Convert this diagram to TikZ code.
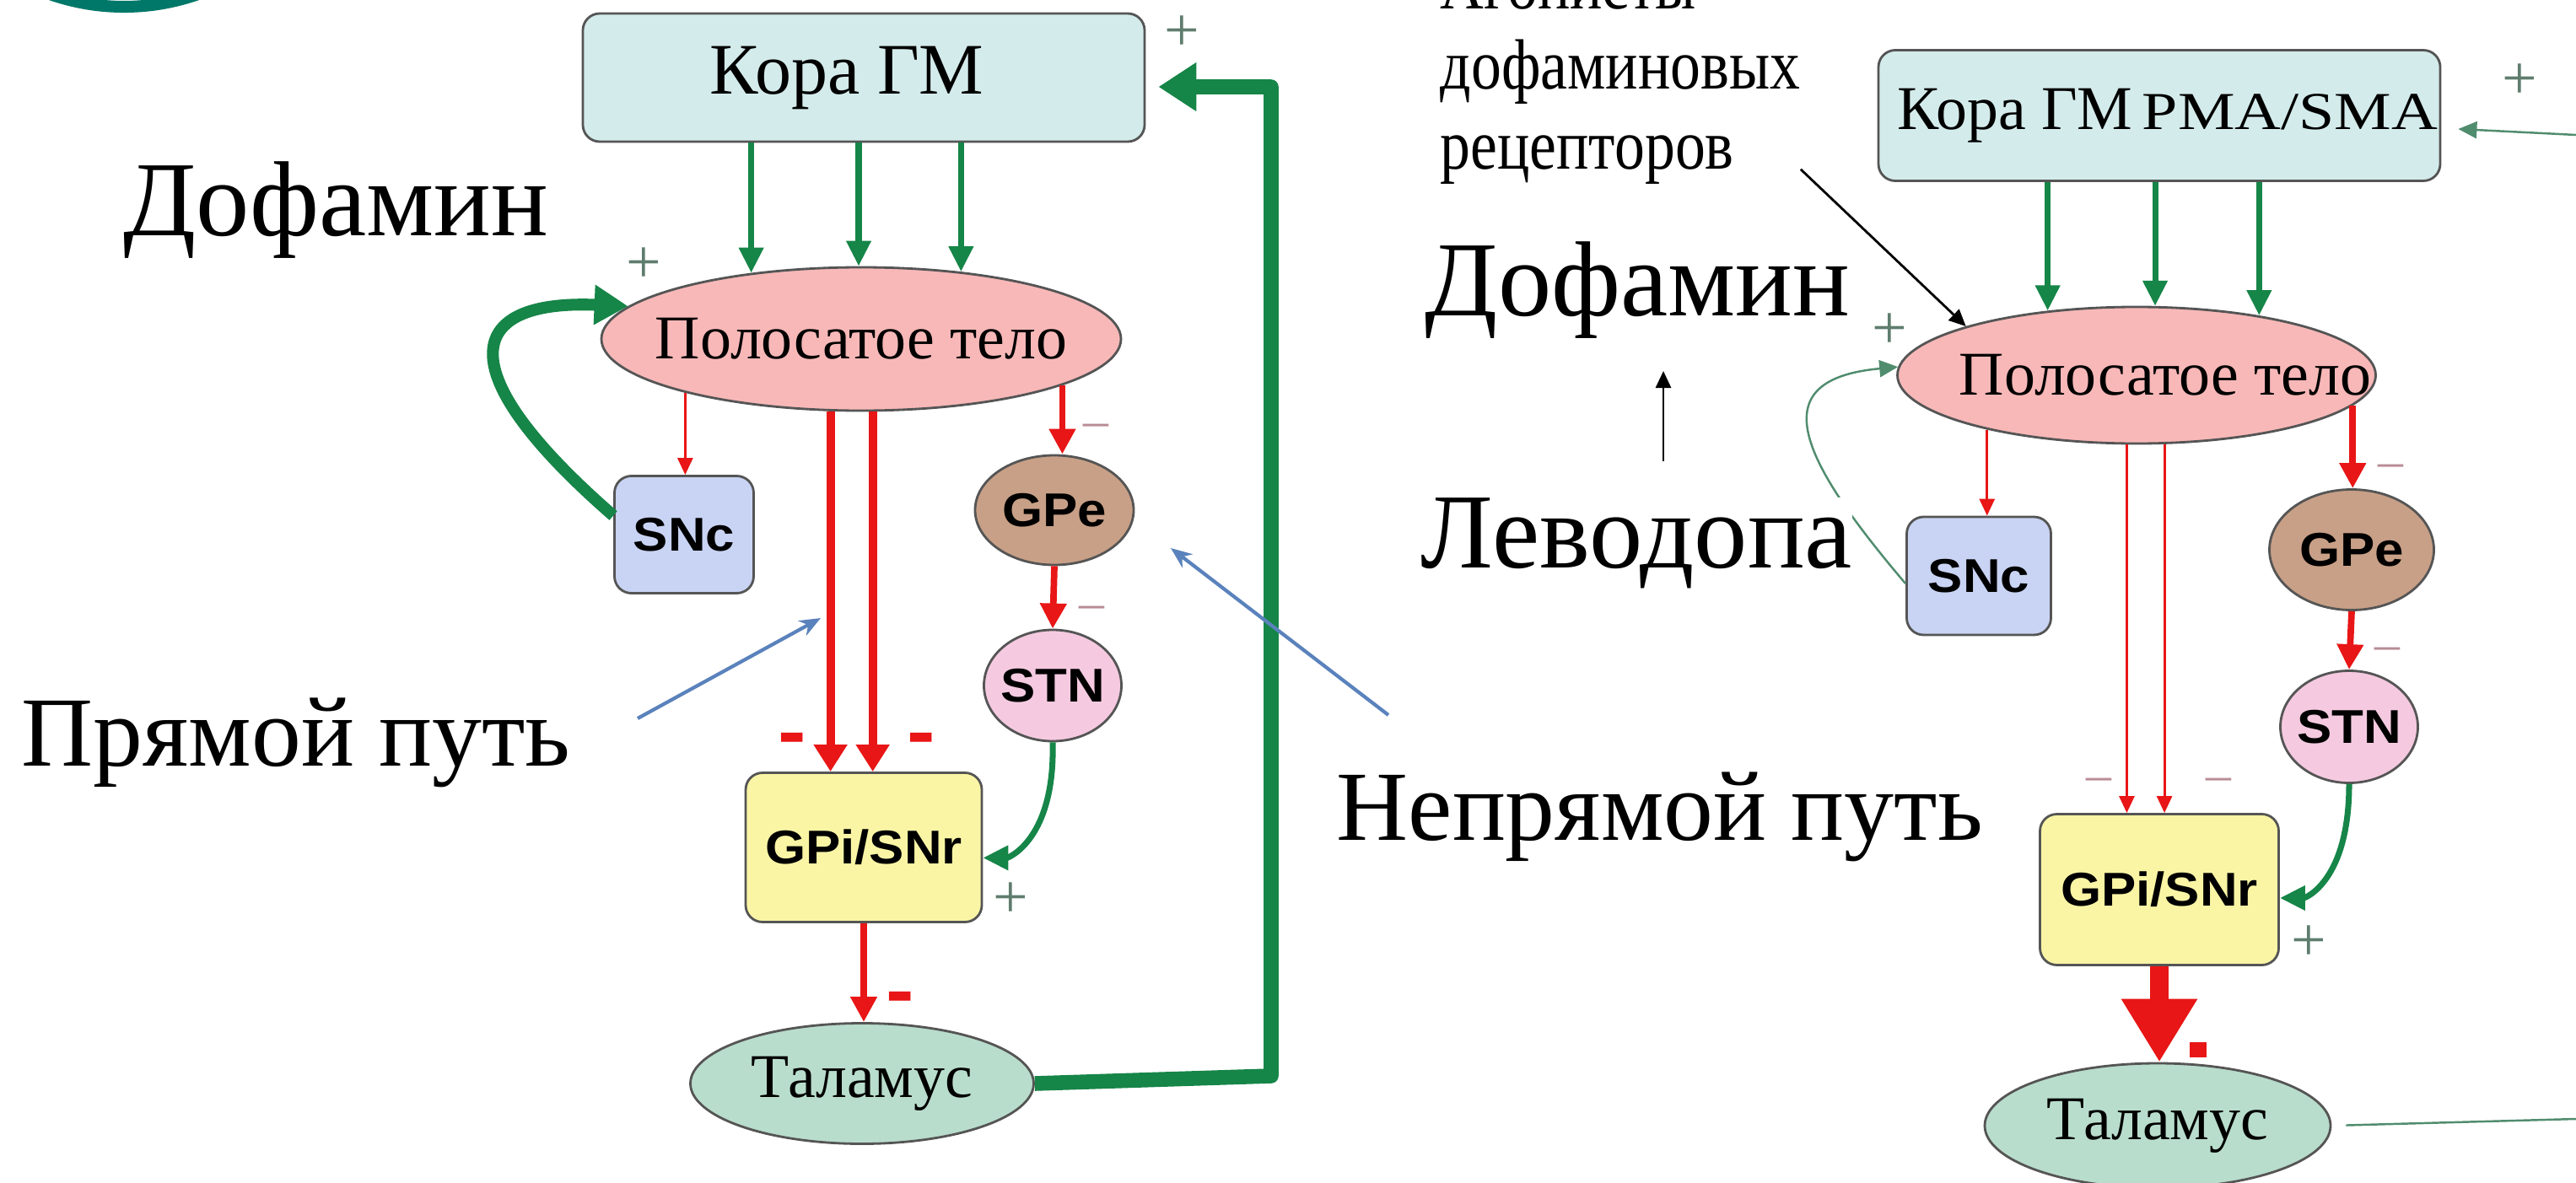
\documentclass[tikz,border=0pt]{standalone}
\usepackage{fontspec}
\setmainfont{Liberation Serif}
\newfontfamily\nucfont[FakeStretch=1.1]{Liberation Sans}
\newfontfamily\agonfont[FakeStretch=0.85]{Liberation Serif}
\newfontfamily\pmafont[FakeStretch=1.2]{Liberation Serif}
\usepackage{xcolor}
\usepackage{tikz}
\usetikzlibrary{shapes,arrows.meta,positioning}

\definecolor{cortexfill}{RGB}{212,235,235}
\definecolor{stfill}{RGB}{248,184,184}
\definecolor{sncfill}{RGB}{201,212,244}
\definecolor{gpefill}{RGB}{200,160,135}
\definecolor{stnfill}{RGB}{245,202,224}
\definecolor{gpifill}{RGB}{250,245,165}
\definecolor{thalfill}{RGB}{185,221,204}
\definecolor{edgegray}{RGB}{85,85,85}
\definecolor{exgreen}{RGB}{22,133,72}
\definecolor{linkgreen}{RGB}{80,140,110}
\definecolor{inred}{RGB}{232,22,22}
\definecolor{pathblue}{RGB}{90,130,188}
\definecolor{signgreen}{RGB}{95,125,110}
\definecolor{signpink}{RGB}{185,140,150}
\definecolor{ringteal}{RGB}{0,120,105}

\newcommand{\ctext}[1]{\makebox[0pt]{#1}}

\begin{document}
\begin{tikzpicture}[
    area/.style={rectangle, draw=edgegray, line width=0.8pt, rounded corners=0.2cm, inner sep=0pt},
    oval/.style={ellipse, draw=edgegray, line width=0.8pt, inner sep=0pt},
    nuc/.style={font=\nucfont\bfseries\fontsize{16}{18}\selectfont},
    ru/.style={font=\fontsize{21}{24}\selectfont},
    big/.style={inner sep=0pt, anchor=base west, font=\fontsize{36}{40}\selectfont},
    plussign/.style={inner sep=0pt, text=signgreen, font=\fontsize{21}{24}\selectfont},
    minussign/.style={inner sep=0pt, text=signpink, font=\fontsize{17}{20}\selectfont},
    redminus/.style={inner sep=0pt, text=inred, font=\nucfont\bfseries\fontsize{26}{28}\selectfont},
    excite/.style={exgreen, line width=2pt, -{Triangle[length=0.3cm, width=0.28cm]}},
    thinexcite/.style={linkgreen, line width=0.7pt, -{Triangle[length=0.22cm, width=0.2cm]}},
    loopback/.style={exgreen, line width=4pt, -{Triangle[length=0.4cm, width=0.45cm]}},
    feedback/.style={exgreen, line width=5pt, line join=round, -{Triangle[length=0.45cm, width=0.55cm]}},
    inhibit/.style={inred, line width=2.8pt, -{Triangle[length=0.32cm, width=0.38cm]}},
    midinhibit/.style={inred, line width=2.2pt, -{Triangle[length=0.3cm, width=0.3cm]}},
    thininhibit/.style={inred, line width=0.8pt, -{Triangle[length=0.2cm, width=0.18cm]}},
    fatinhibit/.style={inred, line width=6.5pt, -{Triangle[length=0.75cm, width=0.85cm]}},
    pointer/.style={pathblue, line width=1.2pt, -{Stealth[length=0.25cm, width=0.2cm]}},
    lead/.style={black, line width=0.8pt, -{Triangle[length=0.2cm, width=0.18cm]}}
]
    \useasboundingbox (0,0) rectangle (30.54,-14.03);

    % Logo ring
    \draw[ringteal, line width=4pt] (1.47,2.56) circle (2.64);

    % Left scheme
    \node[area, fill=cortexfill, minimum width=6.66cm, minimum height=1.52cm, font=\fontsize{24.5}{28}\selectfont] (kora) at (10.24,-0.92) {\ctext{Кора ГМ\hspace*{0.4cm}}};
    \node[oval, fill=stfill, minimum width=6.16cm, minimum height=1.70cm, ru] (str) at (10.21,-4.02) {\ctext{Полосатое тело}};
    \node[area, fill=sncfill, minimum width=1.65cm, minimum height=1.39cm, nuc] (snc) at (8.11,-6.34) {SNc};
    \node[oval, fill=gpefill, minimum width=1.88cm, minimum height=1.30cm, nuc] (gpe) at (12.50,-6.05) {\ctext{GPe}};
    \node[oval, fill=stnfill, minimum width=1.63cm, minimum height=1.32cm, nuc] (stn) at (12.48,-8.13) {\ctext{STN}};
    \node[area, fill=gpifill, minimum width=2.80cm, minimum height=1.77cm, nuc] (gpi) at (10.24,-10.05) {GPi/SNr};
    \node[oval, fill=thalfill, minimum width=4.07cm, minimum height=1.43cm, ru] (tal) at (10.22,-12.85) {\ctext{Таламус}};

    \foreach \a in {149,92,34}
        \draw[excite] (str.\a |- kora.south) -- (str.\a);
    \draw[thininhibit] (str.-163) -- (str.-163 |- snc.north);
    \draw[inhibit] (str.-113) -- (str.-113 |- gpi.north);
    \draw[inhibit] (str.-81) -- (str.-81 |- gpi.north);
    \draw[midinhibit] (str.-13.5) -- (str.-13.5 |- gpe.north);
    \draw[midinhibit] (gpe.south) -- (stn.north);
    \draw[excite] (stn.south) .. controls +(0.03,-1.15) and +(0.3,0) .. (gpi.-5);
    \draw[midinhibit] (gpi.south) -- (gpi.south |- tal.north);
    \draw[loopback] (snc.165) .. controls (5.3,-4.4) and (5.5,-3.55) .. (str.172);

    % Thalamus back to cortex
    \coordinate (fbLow) at (15.07,-12.76);
    \coordinate (fbHigh) at (15.07,-1.03);
    \draw[feedback] (tal.east) -- (fbLow) -- (fbHigh) -- ([xshift=0.15cm,yshift=-0.11cm]kora.east);

    % Signs
    \node[plussign] (p1) at (14.01,-0.40) {+};
    \node[plussign] (p2) at (7.63,-3.15) {+};
    \node[plussign] (p3) at (11.98,-10.68) {+};
    \node[minussign] (m1) at (12.99,-5.11) {–};
    \node[minussign] (m2) at (12.94,-7.27) {–};
    \node[redminus] (rm1) at (9.39,-8.84) {-};
    \node[redminus] (rm2) at (10.92,-8.84) {-};
    \node[redminus] (rm3) at (10.67,-11.91) {-};

    % Captions
    \node[big] (dof1) at (1.46,-2.80) {Дофамин};
    \node[big, font=\fontsize{33.5}{38}\selectfont] (pryam) at (0.25,-9.08) {Прямой путь};
    \node[big, font=\fontsize{33.5}{38}\selectfont] (nepryam) at (15.84,-9.96) {Непрямой путь};
    \coordinate (pA) at (7.56,-8.52);
    \coordinate (pB) at (9.73,-7.33);
    \draw[pointer] (pA) -- (pB);
    \coordinate (nA) at (16.46,-8.48);
    \coordinate (nB) at (13.88,-6.50);
    \draw[pointer] (nA) -- (nB);

    % Right scheme
    \node[area, fill=cortexfill, minimum width=6.66cm, minimum height=1.55cm, ru] (kora2) at (25.60,-1.37) {\ctext{\hspace*{0.2cm}Кора ГМ\hspace{0.12cm}{\pmafont\fontsize{18}{20}\selectfont PMA/SMA}}};
    \node[oval, fill=stfill, minimum width=5.67cm, minimum height=1.62cm, ru] (str2) at (25.33,-4.45) {\ctext{\hspace*{0.68cm}Полосатое тело}};
    \node[area, fill=sncfill, minimum width=1.71cm, minimum height=1.40cm, nuc] (snc2) at (23.46,-6.83) {SNc};
    \node[oval, fill=gpefill, minimum width=1.95cm, minimum height=1.43cm, nuc] (gpe2) at (27.88,-6.52) {\ctext{GPe}};
    \node[oval, fill=stnfill, minimum width=1.63cm, minimum height=1.33cm, nuc] (stn2) at (27.85,-8.62) {\ctext{STN}};
    \node[area, fill=gpifill, minimum width=2.83cm, minimum height=1.79cm, nuc] (gpi2) at (25.60,-10.55) {GPi/SNr};
    \node[oval, fill=thalfill, minimum width=4.10cm, minimum height=1.48cm, ru] (tal2) at (25.58,-13.35) {\ctext{Таламус}};

    \foreach \a in {144,75,26}
        \draw[excite] (str2.\a |- kora2.south) -- (str2.\a);
    \draw[thininhibit] (str2.-160) -- (str2.-160 |- snc2.north);
    \draw[thininhibit] (str2.-98) -- (str2.-98 |- gpi2.north);
    \draw[thininhibit] (str2.-68) -- (str2.-68 |- gpi2.north);
    \draw[midinhibit] (str2.-8) -- (str2.-8 |- gpe2.north);
    \draw[midinhibit] (gpe2.south) -- (stn2.north);
    \draw[excite] (stn2.south) .. controls +(0,-1.15) and +(0.3,0) .. (gpi2.-4);
    \draw[fatinhibit] (gpi2.south) -- (gpi2.south |- tal2.north);
    \draw[thinexcite] (snc2.186) .. controls (21.30,-5.40) and (20.90,-4.50) .. (str2.178);

    \coordinate (edgeTop) at (30.54,-1.60);
    \draw[thinexcite] (edgeTop) -- ([xshift=0.2cm,yshift=-0.16cm]kora2.east);
    \coordinate (edgeLow) at (30.54,-13.27);
    \draw[linkgreen, line width=0.7pt, shorten <=0.17cm] (tal2.east) -- (edgeLow);

    % Signs
    \node[plussign] (p4) at (29.87,-0.97) {+};
    \node[plussign] (p5) at (22.40,-3.93) {+};
    \node[plussign] (p6) at (27.37,-11.19) {+};
    \node[minussign] (m3) at (28.34,-5.59) {–};
    \node[minussign] (m4) at (28.30,-7.76) {–};
    \node[minussign] (m5) at (24.88,-9.31) {–};
    \node[minussign] (m6) at (26.30,-9.31) {–};
    \node[fill=inred, inner sep=0pt, minimum width=0.2cm, minimum height=0.18cm] (rm4) at (26.06,-12.45) {};

    % Captions
    \node[inner sep=0pt, anchor=north west, align=left, font=\agonfont\fontsize{24}{27}\selectfont] (agon) at (17.07,0.46) {Агонисты\\дофаминовых\\рецепторов};
    \node[big] (dof2) at (16.89,-3.74) {Дофамин};
    \node[big, fill=white] (levo) at (16.84,-6.73) {Леводопа};
    \draw[lead] ([yshift=0.18cm]agon.south east) -- (str2.164);
    \coordinate (levoA) at (19.72,-5.47);
    \coordinate (levoB) at (19.72,-4.40);
    \draw[lead] (levoA) -- (levoB);
\end{tikzpicture}
\end{document}
